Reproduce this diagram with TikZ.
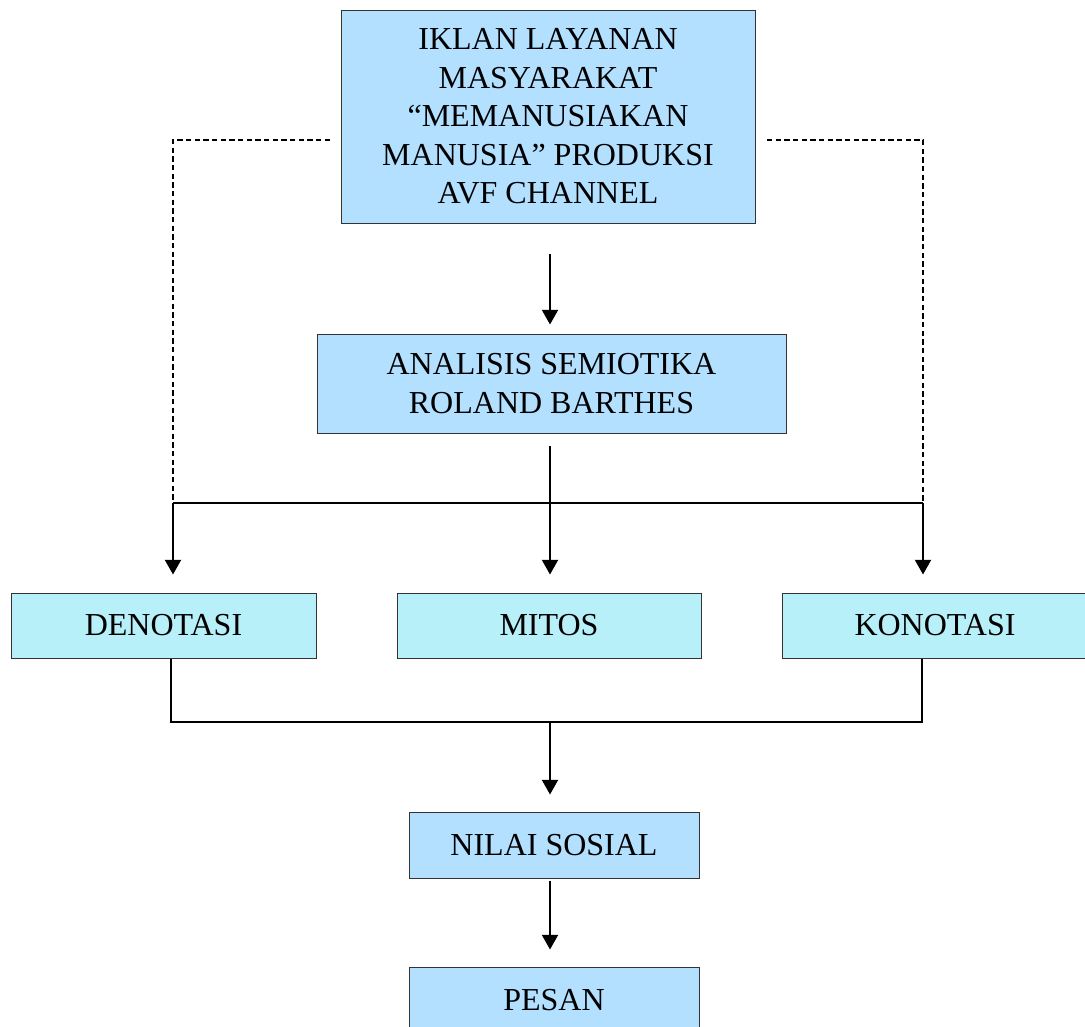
\documentclass[tikz,border=0pt]{standalone}
\usepackage{fontspec}
\setmainfont{Liberation Serif}
\usetikzlibrary{arrows.meta}
\definecolor{boxblue}{RGB}{179,224,255}
\definecolor{boxcyan}{RGB}{184,240,250}
\tikzset{
  box/.style={draw=black!80, line width=0.75pt, inner sep=0pt, align=center,
    font=\fontsize{24}{28.9}\selectfont},
  conn/.style={line width=1.5pt},
  arr/.style={conn, -{Triangle[length=11pt,width=12pt]}},
  dsh/.style={line width=0.9pt, dash pattern=on 4pt off 2.5pt}
}
\begin{document}
\begin{tikzpicture}[x=0.75pt,y=-0.75pt]
\useasboundingbox (0,0) rectangle (1085,1026);
\clip (0,0) rectangle (1085,1026);

\node[box, fill=boxblue, minimum width=310.5pt, minimum height=159.75pt] (iklan) at (548,116.5)
  {IKLAN LAYANAN\\MASYARAKAT\\“MEMANUSIAKAN\\MANUSIA” PRODUKSI\\AVF CHANNEL};
\node[box, fill=boxblue, minimum width=351.75pt, minimum height=74.25pt] (analisis) at (551.5,383.5)
  {ANALISIS SEMIOTIKA\\ROLAND BARTHES};
\node[box, fill=boxcyan, minimum width=228.75pt, minimum height=48.75pt] (denotasi) at (163.5,625.5) {DENOTASI};
\node[box, fill=boxcyan, minimum width=228pt, minimum height=48.75pt] (mitos) at (549,625.5) {MITOS};
\node[box, fill=boxcyan, minimum width=229.5pt, minimum height=48.75pt] (konotasi) at (935,625.5) {KONOTASI};
\node[box, fill=boxblue, minimum width=217.5pt, minimum height=49.5pt] (nilai) at (554,845) {NILAI SOSIAL};
\node[box, fill=boxblue, minimum width=217.5pt, minimum height=49.5pt] (pesan) at (554,1000) {PESAN};

\coordinate (dl) at (330,140);
\coordinate (dr) at (767,140);
\coordinate (bl) at (173,503);
\coordinate (br) at (923,503);
\coordinate (bm) at (550,503);
\coordinate (jl) at (171,722);
\coordinate (jr) at (922,722);
\coordinate (jm) at (550,722);

% dashed links
\draw[dsh] (dl) -| (bl);
\draw[dsh] (dr) -| (br);

% top arrow
\draw[arr, shorten <=22.5pt, shorten >=6.75pt] (iklan.south -| bm) -- (analisis.north -| bm);

% distribution
\draw[conn, shorten <=9pt] (analisis.south -| bm) -- (bm);
\draw[conn] (bl) -- (br);
\draw[arr, shorten >=13.5pt] (bm) -- (mitos.north -| bm);
\draw[arr, shorten >=13.5pt] (bl) -- (denotasi.north -| bl);
\draw[arr, shorten >=13.5pt] (br) -- (konotasi.north -| br);

% join
\draw[conn] (denotasi.south -| jl) -- (jl) -- (jr) -- (konotasi.south -| jr);
\draw[arr, shorten >=12.75pt] (jm) -- (nilai.north -| jm);
\draw[arr, shorten <=1.5pt, shorten >=12.75pt] (nilai.south -| jm) -- (pesan.north -| jm);
\end{tikzpicture}
\end{document}
